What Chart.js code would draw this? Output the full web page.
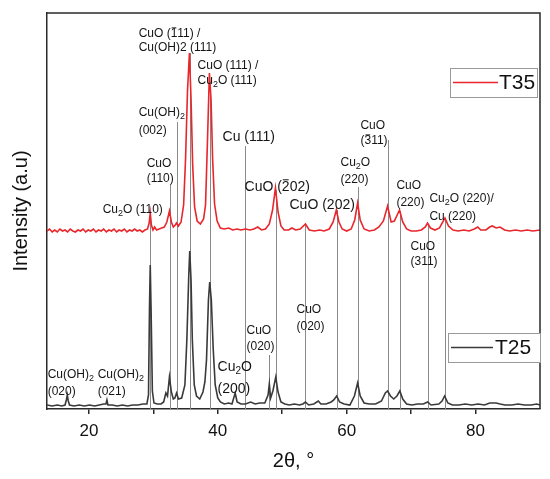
<!DOCTYPE html>
<html>
<head>
<meta charset="utf-8">
<script src="https://cdn.jsdelivr.net/npm/chart.js@4.4.0/dist/chart.umd.min.js"></script>
<style>
  body { margin: 0; background: #fff; }
  canvas { display: block; }
</style>
</head>
<body>
<canvas id="xrd" width="550" height="479"></canvas>
<script>
// series names
const seriesNames = ['T35', 'T25']

// T25 pattern (2theta, intensity a.u.)
const t25Angle = [13.5,14.3,15.1,15.8,16.3,16.5,16.65,16.8,17.0,17.7,18.5,19.3,20.1,20.9,21.6,22.3,22.65,22.8,22.95,23.6,24.4,25.2,26.0,26.8,27.6,28.4,29.0,29.25,29.4,29.52,29.65,29.85,30.1,30.6,31.2,31.6,31.95,32.2,32.5,32.8,33.1,33.35,33.6,33.9,34.4,34.9,35.2,35.5,35.65,35.85,36.05,36.35,36.7,37.2,37.7,38.0,38.25,38.55,38.75,39.0,39.3,39.6,40.0,40.4,41.0,41.7,42.2,42.7,43.0,43.6,44.3,45.1,45.8,46.5,47.3,47.8,48.0,48.2,48.55,49.0,49.35,49.8,50.4,51.1,51.9,52.7,53.2,53.6,54.1,54.9,55.6,56.0,56.8,57.6,58.0,58.45,58.9,59.6,60.5,61.2,61.7,62.1,62.7,63.5,64.5,65.4,66.0,66.35,66.8,67.3,67.8,68.25,68.7,69.3,70.1,71.0,71.9,72.55,73.1,74.3,74.8,75.2,75.7,76.4,77.4,78.4,79.4,80.4,81.4,82.2,82.6,83.2,83.8,84.6,85.6,86.6,87.6,88.6,89.5,90]
const t25Counts = [4,3,4,3,4,9,14,8,4,3,4,3,4,3,4,5,5,9,4,4,3,4,3,4,4,5,5,14,100,144,100,18,6,5,5,7,16,13,32,17,10,11,16,10,11,24,69,134,158,129,69,24,13,10,17,27,49,109,127,109,59,24,11,7,5,6,5,16,7,5,5,7,5,6,6,14,25,11,18,32,17,7,5,4,5,4,5,7,4,5,8,5,5,7,9,13,7,5,4,13,26,13,6,5,5,8,16,18,13,10,13,18,10,5,4,5,5,7,4,5,8,13,6,4,4,5,4,5,4,6,6,6,5,4,4,5,4,4,5,4]

// T35 pattern (2theta, intensity a.u., already shifted up)
const t35Angle = [13.5,13.9,14.3,14.7,15.1,15.5,15.9,16.3,16.7,17.1,17.5,17.9,18.3,18.7,19.1,19.5,19.9,20.3,20.7,21.1,21.5,21.9,22.3,22.7,23.1,23.5,23.9,24.3,24.7,25.1,25.5,25.9,26.3,26.7,27.1,27.5,27.9,28.3,28.7,29.1,29.35,29.52,29.7,29.95,30.2,30.5,30.9,31.3,31.7,32.1,32.5,32.8,33.1,33.4,33.6,33.9,34.3,34.7,35.0,35.3,35.6,35.85,36.1,36.4,36.8,37.3,37.8,38.1,38.4,38.7,38.95,39.2,39.5,39.9,40.4,41.0,41.7,42.3,43.0,43.6,44.3,45.0,45.6,46.2,46.8,47.4,48.0,48.5,48.95,49.35,49.8,50.3,51.0,51.5,52.1,52.8,53.6,54.2,55.0,55.8,56.5,57.3,57.9,58.4,58.8,59.3,60.0,60.7,61.25,61.7,62.1,62.7,63.5,64.3,65.0,65.7,66.35,66.9,67.4,68.2,68.7,69.3,70.0,70.8,71.6,72.2,72.55,73.0,73.7,74.4,75.25,75.8,76.5,77.3,78.2,79.0,79.8,80.35,80.8,81.6,82.2,82.6,83.2,83.8,84.5,85.3,86.2,87.1,88.0,88.9,90.0]
const t35Counts = [178,180,177,179,177,180,178,179,177,180,178,177,179,178,180,177,179,178,180,177,179,178,180,177,179,178,180,177,179,178,180,177,179,178,180,178,179,177,179,180,186,196,184,179,182,179,180,181,182,187,198,187,182,184,186,183,187,204,250,318,356,310,245,202,188,185,190,204,268,336,310,250,205,188,181,180,181,179,180,179,180,179,180,182,179,180,185,199,221,197,183,179,179,181,179,180,185,179,178,179,178,180,187,199,187,180,178,180,189,206,189,180,178,179,182,188,203,187,188,199,187,180,178,178,179,182,186,181,179,181,191,183,179,178,179,178,180,182,179,179,182,183,181,182,179,178,179,178,179,178,179]

// x tick labels
const xTickLabels = [20, 40, 60, 80]

// reflection marker lines: position and the level where each line starts
const refAngle = [29.52, 32.51, 33.6, 35.66, 38.76, 44.25, 48.02, 49.02, 53.6, 58.45, 61.71, 66.36, 68.25, 72.56, 75.22]
const refTop   = [193, 224, 287, 356, 324, 263, 54, 219, 184, 199, 222, 269, 198, 184, 189]

// peak labels, "_2" = subscript, "~1" = digit with a bar
const peakNotes = [
    { text: 'CuO (~111) /', at: [27.72, 375] },
    { text: 'Cu(OH)2 (111)', at: [27.72, 361] },
    { text: 'CuO (111) /', at: [36.86, 343] },
    { text: 'Cu_2O (111)', at: [36.86, 328] },
    { text: 'Cu(OH)_2', at: [27.72, 296] },
    { text: '(002)', at: [27.72, 278] },
    { text: 'Cu (111)', at: [40.74, 272], big: true },
    { text: 'CuO', at: [28.96, 245] },
    { text: '(110)', at: [28.96, 230] },
    { text: 'Cu_2O (110)', at: [22.14, 199] },
    { text: 'CuO (~202)', at: [44.15, 222], big: true },
    { text: 'CuO (202)', at: [51.13, 204], big: true },
    { text: 'Cu_2O', at: [59.04, 246] },
    { text: '(220)', at: [59.04, 229] },
    { text: 'CuO', at: [62.14, 283] },
    { text: '(~311)', at: [62.14, 268] },
    { text: 'CuO', at: [67.72, 223] },
    { text: '(220)', at: [67.72, 206] },
    { text: 'Cu_2O (220)/', at: [72.84, 210] },
    { text: 'Cu (220)', at: [72.84, 192] },
    { text: 'Cu(OH)_2', at: [13.6, 34] },
    { text: '(020)', at: [13.6, 17] },
    { text: 'Cu(OH)_2', at: [21.36, 34] },
    { text: '(021)', at: [21.36, 17] },
    { text: 'Cu_2O', at: [39.96, 42], big: true },
    { text: '(200)', at: [39.96, 20], big: true },
    { text: 'CuO', at: [44.46, 78] },
    { text: '(020)', at: [44.46, 62] },
    { text: 'CuO', at: [52.21, 99] },
    { text: '(020)', at: [52.21, 82] },
    { text: 'CuO', at: [69.9, 162] },
    { text: '(311)', at: [69.9, 147] }
]

const FONT = '"Liberation Sans", Arial, sans-serif'
const RED = '#e8262b'
const DARK = '#3a3a3a'

function toPoints(xs, ys)
{
    return xs.map((x, i) => ({ x: x, y: ys[i] }))
}

function drawRichText(ctx, str, x, y, size)
{
    let cx = x
    let i = 0
    while (i < str.length) {
        const ch = str[i]
        if (ch === '_' || ch === '~') {
            const c = str[i + 1]
            if (ch === '_') {
                ctx.font = Math.round(size * 0.72) + 'px ' + FONT
                ctx.fillText(c, cx, y + size * 0.3)
                cx += ctx.measureText(c).width
            } else {
                ctx.font = size + 'px ' + FONT
                const w = ctx.measureText(c).width
                ctx.fillText(c, cx, y)
                ctx.fillRect(cx + 1, y - size * 0.55, w - 2, 1)
                cx += w
            }
            i += 2
            continue
        }
        let run = ''
        while (i < str.length && str[i] !== '_' && str[i] !== '~') {
            run += str[i]
            i++
        }
        ctx.font = size + 'px ' + FONT
        ctx.fillText(run, cx, y)
        cx += ctx.measureText(run).width
    }
}

// gray marker lines under the curves
const markerLines = {
    id: 'markerLines',
    beforeDatasetsDraw(chart) {
        const ctx = chart.ctx
        const xs = chart.scales.x
        const ys = chart.scales.y
        ctx.save()
        ctx.strokeStyle = '#8a8a8a'
        ctx.lineWidth = 1
        refAngle.forEach((a, i) => {
            const px = Math.round(xs.getPixelForValue(a)) + 0.5
            ctx.beginPath()
            ctx.moveTo(px, ys.getPixelForValue(refTop[i]))
            ctx.lineTo(px, chart.chartArea.bottom)
            ctx.stroke()
        })
        ctx.restore()
    }
}

// labels, legend boxes and the top/right frame
const decorations = {
    id: 'decorations',
    afterDatasetsDraw(chart) {
        const ctx = chart.ctx
        const xs = chart.scales.x
        const ys = chart.scales.y
        const area = chart.chartArea
        ctx.save()

        ctx.fillStyle = '#151515'
        ctx.textBaseline = 'middle'
        ctx.textAlign = 'left'
        peakNotes.forEach(n => {
            drawRichText(ctx, n.text, xs.getPixelForValue(n.at[0]), ys.getPixelForValue(n.at[1]), n.big ? 14 : 12)
        })

        // frame
        ctx.strokeStyle = '#2a2a2a'
        ctx.lineWidth = 1.5
        ctx.beginPath()
        ctx.moveTo(area.left, area.top)
        ctx.lineTo(area.right, area.top)
        ctx.lineTo(area.right, area.bottom)
        ctx.stroke()

        // two legend boxes
        const boxes = [
            { box: [450, 68, 87, 29], line: [453, 498], ty: 82.5, tx: 499 },
            { box: [448, 333, 92, 29], line: [451, 493], ty: 347.5, tx: 495 }
        ]
        chart.data.datasets.forEach((ds, i) => {
            const b = boxes[i]
            ctx.fillStyle = '#fff'
            ctx.fillRect(b.box[0], b.box[1], b.box[2], b.box[3])
            ctx.strokeStyle = '#9a9a9a'
            ctx.lineWidth = 1
            ctx.strokeRect(b.box[0] + 0.5, b.box[1] + 0.5, b.box[2], b.box[3])
            ctx.strokeStyle = ds.borderColor
            ctx.lineWidth = 1.5
            ctx.beginPath()
            ctx.moveTo(b.line[0], b.ty)
            ctx.lineTo(b.line[1], b.ty)
            ctx.stroke()
            ctx.fillStyle = '#111'
            ctx.font = '21px ' + FONT
            ctx.fillText(ds.label, b.tx, b.ty + 1)
        })
        ctx.restore()
    }
}

new Chart('xrd', {
    type: 'line',
    data: {
        datasets: [
            { label: seriesNames[0], data: toPoints(t35Angle, t35Counts), borderColor: RED, borderWidth: 1.6, pointRadius: 0, tension: 0 },
            { label: seriesNames[1], data: toPoints(t25Angle, t25Counts), borderColor: DARK, borderWidth: 1.6, pointRadius: 0, tension: 0 }
        ]
    },
    options: {
        responsive: false,
        animation: false,
        layout: { padding: { top: 13, right: 10, left: 0, bottom: 0 } },
        plugins: {
            legend: { display: false },
            tooltip: { enabled: false }
        },
        scales: {
            x: {
                type: 'linear',
                min: 13.5,
                max: 90,
                afterBuildTicks: (scale) => {
                    scale.ticks = [20, 30, 40, 50, 60, 70, 80].map(v => ({ value: v }))
                },
                afterFit: (scale) => { scale.height = 70 },
                ticks: {
                    autoSkip: false,
                    maxRotation: 0,
                    padding: 7,
                    color: '#111',
                    font: { family: FONT, size: 17 },
                    callback: (v) => xTickLabels.includes(v) ? String(v) : ''
                },
                grid: { drawOnChartArea: false, drawTicks: true, tickLength: 5, color: '#2a2a2a', lineWidth: 1.5 },
                border: { display: true, color: '#2a2a2a', width: 1.5 },
                title: { display: true, text: '2θ, °', color: '#111', font: { family: FONT, size: 20 }, padding: { top: 0, bottom: 6 } }
            },
            y: {
                min: 0,
                max: 396,
                ticks: { display: false },
                afterFit: (scale) => { scale.width = 47 },
                grid: { drawOnChartArea: false, drawTicks: false },
                border: { display: true, color: '#2a2a2a', width: 1.5 },
                title: { display: true, text: 'Intensity (a.u)', color: '#111', font: { family: FONT, size: 20 }, padding: { top: 9, bottom: 0 } }
            }
        }
    },
    plugins: [markerLines, decorations]
})
</script>
</body>
</html>
